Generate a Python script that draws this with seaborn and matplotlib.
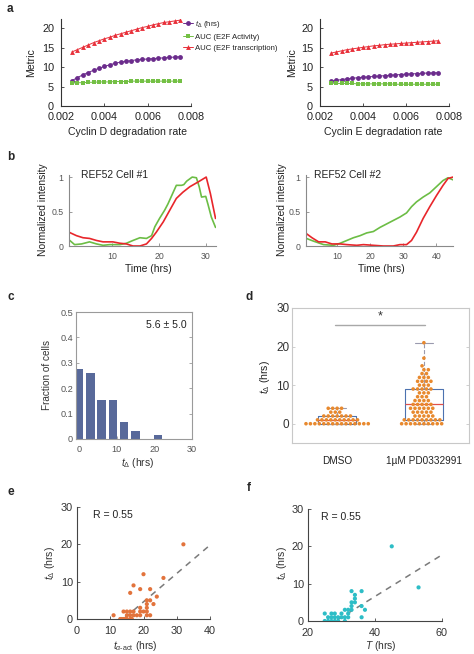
import numpy as np
import pandas as pd
import matplotlib
matplotlib.use("Agg")
import matplotlib.pyplot as plt
import seaborn as sns

# ---------------- data ----------------
# panel a: model sweeps
a_rate = [0.0025, 0.00275, 0.003, 0.00325, 0.0035, 0.00375, 0.004, 0.00425, 0.0045, 0.00475,
          0.005, 0.00525, 0.0055, 0.00575, 0.006, 0.00625, 0.0065, 0.00675, 0.007, 0.00725, 0.0075]
aD_td = [6.5, 7.3, 8.0, 8.6, 9.2, 9.7, 10.2, 10.6, 11.0, 11.3, 11.5, 11.7, 11.9, 12.0, 12.1, 12.2, 12.3, 12.4, 12.5, 12.6, 12.7]
aD_act = [5.9, 6.0, 6.0, 6.1, 6.1, 6.2, 6.2, 6.2, 6.3, 6.3, 6.3, 6.4, 6.4, 6.4, 6.4, 6.4, 6.4, 6.4, 6.4, 6.4, 6.4]
aD_tx = [13.9, 14.5, 15.1, 15.7, 16.3, 16.8, 17.3, 17.7, 18.2, 18.6, 19.0, 19.4, 19.8, 20.2, 20.5, 20.9, 21.2, 21.5, 21.7, 21.9, 22.1]
aE_td = [6.4, 6.6, 6.8, 7.0, 7.1, 7.3, 7.4, 7.5, 7.6, 7.7, 7.8, 7.9, 8.0, 8.1, 8.2, 8.3, 8.3, 8.4, 8.5, 8.5, 8.6]
aE_act = [5.9, 5.8, 5.8, 5.8, 5.8, 5.7, 5.7, 5.7, 5.7, 5.7, 5.7, 5.7, 5.6, 5.6, 5.6, 5.6, 5.6, 5.6, 5.6, 5.6, 5.6]
aE_tx = [13.6, 13.9, 14.2, 14.5, 14.7, 14.9, 15.1, 15.3, 15.5, 15.6, 15.8, 15.9, 16.0, 16.1, 16.2, 16.3, 16.4, 16.5, 16.6, 16.7, 16.8]
a_labels = [r"$t_\Delta$ (hrs)", "AUC (E2F Activity)", "AUC (E2F transcription)"]
a_xticks = [0.002, 0.004, 0.006, 0.008]
a_xticklabels = ["0.002", "0.004", "0.006", "0.008"]

# panel b: single-cell traces
b1_green_t = [0.7, 1.9, 3.4, 5.1, 6.6, 8.0, 9.4, 11.6, 13.0, 14.4, 15.9, 17.3, 18.4, 19.1, 20.1, 21.2, 21.9,
              22.9, 23.7, 24.8, 25.3, 25.9, 27.1, 28.0, 28.6, 29.1, 30.0, 30.5, 31.2, 32.1]
b1_green_v = [0.09, 0.02, 0.03, 0.06, 0.03, 0.01, 0.02, 0.02, 0.04, 0.08, 0.12, 0.11, 0.15, 0.28, 0.40, 0.52, 0.61,
              0.76, 0.88, 0.88, 0.89, 0.94, 1.0, 0.99, 0.86, 0.71, 0.72, 0.60, 0.42, 0.27]
b1_red_t = [0.7, 2.3, 3.7, 5.1, 6.6, 8.0, 10.1, 11.6, 13.0, 14.4, 15.9, 17.3, 18.4, 19.4, 20.9, 22.3, 23.7,
            25.1, 26.6, 28.4, 30.1, 31.0, 32.1]
b1_red_v = [0.20, 0.15, 0.12, 0.11, 0.08, 0.06, 0.06, 0.04, 0.03, 0.0, 0.0, 0.03, 0.11, 0.20, 0.35, 0.52, 0.69,
            0.78, 0.86, 0.93, 1.0, 0.76, 0.40]
b2_green_t = [0.8, 3, 6, 9, 11, 13, 15, 17, 19, 21, 23, 25, 27, 29, 31, 32.5, 34, 36, 38, 40, 42, 43.5, 45]
b2_green_v = [0.11, 0.07, 0.02, 0.01, 0.04, 0.08, 0.12, 0.15, 0.19, 0.21, 0.27, 0.32, 0.37, 0.42, 0.48, 0.57,
              0.64, 0.71, 0.77, 0.86, 0.95, 0.99, 0.96]
b2_red_t = [0.8, 2.5, 4.5, 6.5, 8.5, 11, 13, 16, 18, 21, 24, 27, 29, 31, 32.5, 34, 36, 38, 40, 42, 43.5, 45]
b2_red_v = [0.18, 0.12, 0.06, 0.06, 0.03, 0.03, 0.02, 0.01, 0.02, 0.01, 0.0, 0.0, 0.02, 0.02, 0.08, 0.20,
            0.40, 0.57, 0.73, 0.88, 0.98, 1.0]

# panel c: histogram of t_delta
c_centers = [0, 3, 6, 9, 12, 15, 18, 21]
c_frac = [0.274, 0.258, 0.154, 0.154, 0.067, 0.033, 0.0, 0.017]

# panel d: t_delta per condition (value: count)
d_groups = ["DMSO", "1\u00b5M PD0332991"]
d_dmso_vals = [0, 1, 2, 3, 4]
d_dmso_counts = [15, 10, 7, 3, 4]
d_pd_vals = [0, 1, 2, 3, 4, 5, 6, 7, 8, 9, 10, 11, 12, 13, 14, 15, 17, 21]
d_pd_counts = [10, 9, 5, 5, 6, 5, 4, 3, 3, 5, 3, 4, 3, 2, 2, 1, 1, 1]

# panel e
e_x = [32, 20, 26, 17, 19, 22, 16, 24, 21, 22, 21, 23, 19, 21, 14, 15, 16, 17, 19, 20, 21,
       11, 15, 16, 17, 18, 19, 21, 22, 13, 13.5, 14, 14.5, 15, 16, 16.5]
e_y = [20, 12, 11, 9, 8, 8, 7, 6, 5, 5, 4, 4, 3, 3, 2, 2, 2, 2, 2, 2, 2,
       1, 1, 1, 1, 1, 1, 1, 1, 0, 0, 0, 0, 0, 0, 0]
e_fit = [0.76, -10.6]   # slope, intercept

# panel f
f_x = [45, 53, 33, 36, 34, 33, 34, 33, 36, 37, 36, 32, 31, 32, 30, 28, 27, 25, 31, 30, 29,
       28, 27, 26, 32, 33, 25, 26, 27, 28, 29, 31, 34]
f_y = [20, 9, 8, 8, 7, 5, 5, 4, 4, 3, 1, 3, 3, 2, 2, 2, 2, 2, 1, 1, 1,
       1, 1, 1, 1, 3, 0, 0, 0, 0, 0, 0, 6]
f_fit = [0.557, -15.7]

# ---------------- style ----------------
sns.set_theme(style="ticks")
plt.rcParams["font.family"] = ["Liberation Sans", "DejaVu Sans"]
plt.rcParams["mathtext.fontset"] = "custom"
plt.rcParams["mathtext.rm"] = "Liberation Sans"
plt.rcParams["mathtext.it"] = "Liberation Sans:italic"
plt.rcParams["mathtext.bf"] = "Liberation Sans:bold"

PURPLE = "#6B2C8C"
GREEN = "#74C045"
RED = "#E8303A"
LGREEN = "#6CBD45"
LRED = "#E8262B"
BLUE = "#58699A"
ORANGE = "#E8892E"
ORANGE2 = "#E2733C"
CYAN = "#2DBDC6"

W, H = 474, 654
fig = plt.figure(figsize=(W / 100, H / 100), dpi=100)


def rect(l, t, r, b):
    return [l / W, 1 - b / H, (r - l) / W, (b - t) / H]


def ftext(x, y, s, **kw):
    kw.setdefault("ha", "center")
    kw.setdefault("va", "center")
    return fig.text(x / W, 1 - y / H, s, **kw)


def style(ax, scol, lcol, lsize, box=False, right_ticks=False, xpad=3, ypad=3):
    ax.spines["top"].set_visible(box)
    ax.spines["right"].set_visible(box)
    for s in ax.spines.values():
        s.set_color(scol)
        s.set_linewidth(0.8)
    ax.tick_params(direction="in", length=2.5, width=0.6, color=scol,
                   labelsize=lsize, labelcolor=lcol, right=right_ticks)
    ax.tick_params(axis="x", pad=xpad)
    ax.tick_params(axis="y", pad=ypad)
    ax.set_xlabel("")
    ax.set_ylabel("")


# ---------------- panel a ----------------
for k, (l, r, tdv, actv, txv, xlab, xc) in enumerate([
        (61, 191, aD_td, aD_act, aD_tx, "Cyclin D degradation rate", 128),
        (320, 449, aE_td, aE_act, aE_tx, "Cyclin E degradation rate", 383)]):
    ax = fig.add_axes(rect(l, 19, r, 106))
    sns.lineplot(x=a_rate, y=tdv, ax=ax, color=PURPLE, marker="o", markersize=3.5,
                 markeredgewidth=0, linewidth=0.7, label=a_labels[0], legend=False)
    sns.lineplot(x=a_rate, y=actv, ax=ax, color=GREEN, marker="s", markersize=3.2,
                 markeredgewidth=0, linewidth=0.7, label=a_labels[1], legend=False)
    sns.lineplot(x=a_rate, y=txv, ax=ax, color=RED, marker="^", markersize=3.5,
                 markeredgewidth=0, linewidth=0.7, label=a_labels[2], legend=False)
    ax.set_xlim(0.002, 0.008)
    ax.set_ylim(0, 22.4)
    ax.set_xticks(a_xticks, labels=a_xticklabels)
    ax.set_yticks([0, 5, 10, 15, 20])
    style(ax, "#333333", "#222222", 7.8, xpad=4, ypad=5)
    ftext(xc, 132, xlab, fontsize=7.6, color="#222222")
    ftext(31 if k == 0 else 292, 63, "Metric", fontsize=7.6, color="#222222", rotation=90)
    if k == 0:
        h, lb = ax.get_legend_handles_labels()
        leg = ax.legend(h, lb, loc="upper left", bbox_to_anchor=(183 / W, 1 - 19 / H),
                        bbox_transform=fig.transFigure, frameon=False, fontsize=5.6,
                        handlelength=1.3, handletextpad=0.3, labelspacing=0.45,
                        borderpad=0, borderaxespad=0)
        for t in leg.get_texts():
            t.set_color("#222222")
ftext(7, 9, "a", fontsize=8.5, fontweight="bold", ha="left")

# ---------------- panel b ----------------
for k, (l, r, gt, gv, rt, rv, xmax, xt, title, xc) in enumerate([
        (69, 216, b1_green_t, b1_green_v, b1_red_t, b1_red_v, 32.2, [10, 20, 30], "REF52 Cell #1", 148),
        (306, 453, b2_green_t, b2_green_v, b2_red_t, b2_red_v, 45.0, [10, 20, 30, 40], "REF52 Cell #2", 381)]):
    ax = fig.add_axes(rect(l, 175, r, 246))
    sns.lineplot(x=gt, y=gv, ax=ax, color=LGREEN, linewidth=1.2, sort=False)
    sns.lineplot(x=rt, y=rv, ax=ax, color=LRED, linewidth=1.2, sort=False)
    ax.set_xlim(0.7, xmax)
    ax.set_ylim(0, 1.03)
    ax.set_xticks(xt)
    ax.set_yticks([0, 0.5, 1], labels=["0", "0.5", "1"])
    style(ax, "#8a8a8a", "#555555", 6.3, xpad=4, ypad=4)
    ftext(81 if k == 0 else 314, 175, title, fontsize=7.4, color="#222222", ha="left")
    ftext(xc, 269, "Time (hrs)", fontsize=7.4, color="#222222")
    ftext(43 if k == 0 else 282, 210, "Normalized intensity", fontsize=7.4, color="#222222", rotation=90)
ftext(7, 157, "b", fontsize=8.5, fontweight="bold", ha="left")

# ---------------- panel c ----------------
ax = fig.add_axes(rect(76, 312, 192, 439))
sns.barplot(x=c_centers, y=c_frac, ax=ax, native_scale=True, width=0.75, color=BLUE,
            saturation=1, errorbar=None, linewidth=0)
ax.set_xlim(-0.8, 30)
ax.set_ylim(0, 0.5)
ax.set_xticks([0, 10, 20, 30], labels=["0", "10", "20", "30"])
ax.set_yticks([0, 0.1, 0.2, 0.3, 0.4, 0.5], labels=["0", "0.1", "0.2", "0.3", "0.4", "0.5"])
style(ax, "#9a9a9a", "#555555", 6.6, box=True, right_ticks=True, xpad=4, ypad=2)
ftext(166, 325, "5.6 \u00b1 5.0", fontsize=7.6, color="#222222")
ftext(138, 463, r"$t_\Delta$ (hrs)", fontsize=7.4, color="#333333")
ftext(47, 375, "Fraction of cells", fontsize=7.2, color="#333333", rotation=90)
ftext(7, 297, "c", fontsize=8.5, fontweight="bold", ha="left")

# ---------------- panel d ----------------
d_vals = list(np.repeat(d_dmso_vals, d_dmso_counts)) + list(np.repeat(d_pd_vals, d_pd_counts))
d_grp = [d_groups[0]] * int(sum(d_dmso_counts)) + [d_groups[1]] * int(sum(d_pd_counts))
df_d = pd.DataFrame({"group": d_grp, "val": d_vals})
ax = fig.add_axes(rect(292, 308, 469, 443))
sns.boxplot(data=df_d, x="group", y="val", order=d_groups, ax=ax, fill=False, width=0.43,
            linecolor="#A9A9D4", linewidth=0.8, showfliers=False,
            medianprops=dict(color="#E0504A", linewidth=0.9),
            whiskerprops=dict(color="#9a9aae", linestyle="--", linewidth=0.8),
            capprops=dict(color="#9a9aae", linewidth=0.8))
sns.swarmplot(data=df_d, x="group", y="val", order=d_groups, ax=ax, color=ORANGE,
              size=2.6, zorder=3, linewidth=0.45, edgecolor="none")
ax.set_xlim(-0.52, 1.52)
ax.set_ylim(-5, 30)
ax.set_yticks([0, 10, 20, 30])
style(ax, "#c8c8c8", "#333333", 8.5, box=True, right_ticks=True, ypad=2)
ax.tick_params(axis="x", length=0, pad=9, labelsize=7.2, labelcolor="#222222")
sig_y = 25.6
ax.plot([-0.02, 1.01], [sig_y, sig_y], color="#a8a8a8", linewidth=1.0)
ax.text(0.5, sig_y + 0.6, "*", ha="center", va="bottom", fontsize=9, color="#333333")
ftext(265, 377, r"$t_\Delta$ (hrs)", fontsize=7.6, color="#222222", rotation=90)
ftext(246, 297, "d", fontsize=8.5, fontweight="bold", ha="left")

# ---------------- panel e ----------------
ax = fig.add_axes(rect(77, 507, 210, 619))
sns.scatterplot(x=e_x, y=e_y, ax=ax, color=ORANGE2, s=9, edgecolor="none", zorder=3)
ax.set_xlim(0, 40)
ax.set_ylim(0, 30)
xs = np.array(ax.get_xlim())
ax.plot(xs, e_fit[0] * xs + e_fit[1], ls=(0, (4, 3.5)), color="#7a7a7a", linewidth=1.1)
ax.set_xticks([0, 10, 20, 30, 40])
ax.set_yticks([0, 10, 20, 30])
style(ax, "#444444", "#333333", 7.8, xpad=5, ypad=3)
ax.text(0.12, 0.97, "R = 0.55", transform=ax.transAxes, ha="left", va="top", fontsize=7.6, color="#222222")
ftext(135, 646, r"$t_{\alpha\text{-act}}$ (hrs)", fontsize=7.4, color="#333333")
ftext(50, 563, r"$t_\Delta$ (hrs)", fontsize=7.6, color="#333333", rotation=90)
ftext(7, 492, "e", fontsize=8.5, fontweight="bold", ha="left")

# ---------------- panel f ----------------
ax = fig.add_axes(rect(308, 509, 442, 621))
sns.scatterplot(x=f_x, y=f_y, ax=ax, color=CYAN, s=9, edgecolor="none", zorder=3)
ax.set_xlim(20, 60)
ax.set_ylim(0, 30)
xs = np.array(ax.get_xlim())
ax.plot(xs, f_fit[0] * xs + f_fit[1], ls=(0, (4, 3.5)), color="#7a7a7a", linewidth=1.1)
ax.set_xticks([20, 40, 60])
ax.set_yticks([0, 10, 20, 30])
style(ax, "#444444", "#333333", 7.8, xpad=5, ypad=3)
ax.text(0.1, 0.97, "R = 0.55", transform=ax.transAxes, ha="left", va="top", fontsize=7.6, color="#222222")
ftext(381, 646, r"$T$ (hrs)", fontsize=7.4, color="#333333")
ftext(282, 563, r"$t_\Delta$ (hrs)", fontsize=7.6, color="#333333", rotation=90)
ftext(247, 488, "f", fontsize=8.5, fontweight="bold", ha="left")

fig.savefig("out.png", dpi=100)
